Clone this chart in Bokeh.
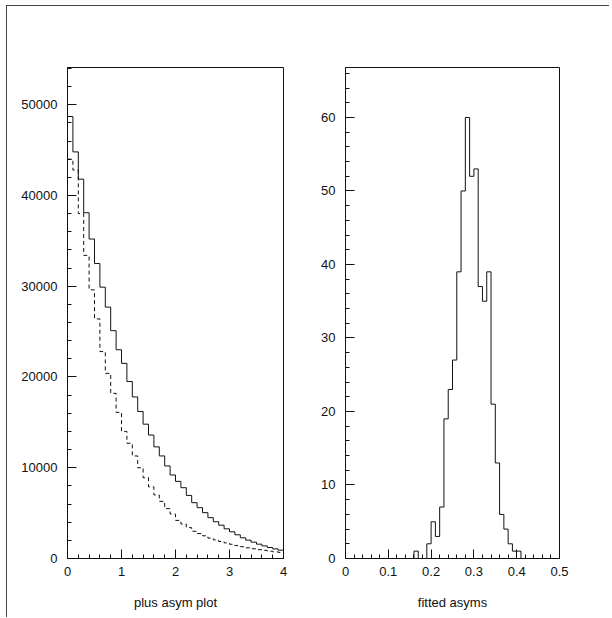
from bokeh.plotting import figure
from bokeh.models import FixedTicker, Range1d
from bokeh.layouts import row
from bokeh.embed import file_html
from bokeh.resources import INLINE

# ---------------- data ----------------
# left panel: 40 bins of width 0.1 from 0 to 4
plus_edges = [0.0, 0.1, 0.2, 0.3, 0.4, 0.5, 0.6, 0.7, 0.8, 0.9,
              1.0, 1.1, 1.2, 1.3, 1.4, 1.5, 1.6, 1.7, 1.8, 1.9,
              2.0, 2.1, 2.2, 2.3, 2.4, 2.5, 2.6, 2.7, 2.8, 2.9,
              3.0, 3.1, 3.2, 3.3, 3.4, 3.5, 3.6, 3.7, 3.8, 3.9, 4.0]
plus_solid = [48700, 44800, 41800, 38100, 35200, 32500, 29900, 27700, 25100, 23000,
              21500, 19500, 17800, 16200, 14800, 13600, 12300, 11300, 10200, 9200,
              8500, 7800, 6950, 6150, 5600, 5050, 4500, 4050, 3670, 3270,
              2940, 2610, 2280, 2020, 1800, 1580, 1390, 1210, 1060, 920]
plus_dashed = [44000, 42800, 38000, 33400, 29600, 26400, 22800, 20400, 18200, 16100,
               14000, 12700, 11300, 10000, 8900, 7900, 7000, 6300, 5500, 4900,
               4200, 3800, 3400, 3000, 2750, 2500, 2250, 2050, 1880, 1720,
               1570, 1420, 1300, 1180, 1070, 970, 890, 800, 730, 680]

# right panel: 50 bins of width 0.01 from 0 to 0.5
fit_edges = [0.00, 0.01, 0.02, 0.03, 0.04, 0.05, 0.06, 0.07, 0.08, 0.09,
             0.10, 0.11, 0.12, 0.13, 0.14, 0.15, 0.16, 0.17, 0.18, 0.19,
             0.20, 0.21, 0.22, 0.23, 0.24, 0.25, 0.26, 0.27, 0.28, 0.29,
             0.30, 0.31, 0.32, 0.33, 0.34, 0.35, 0.36, 0.37, 0.38, 0.39,
             0.40, 0.41, 0.42, 0.43, 0.44, 0.45, 0.46, 0.47, 0.48, 0.49, 0.50]
fit_counts = [0, 0, 0, 0, 0, 0, 0, 0, 0, 0,
              0, 0, 0, 0, 0, 0, 1, 0, 0, 2,
              5, 3, 7, 19, 23, 27, 39, 50, 60, 52,
              53, 37, 35, 39, 21, 13, 6, 4, 2, 1,
              1, 0, 0, 0, 0, 0, 0, 0, 0, 0]

plus_xticks = [0, 1, 2, 3, 4]
plus_yticks = [0, 10000, 20000, 30000, 40000, 50000]
fit_xticks = [0, 0.1, 0.2, 0.3, 0.4, 0.5]
fit_yticks = [0, 10, 20, 30, 40, 50, 60]

FONT = "Liberation Sans"
INK = "#111111"


def style(p, xticks, yticks, xminor, yminor, xlabel):
    p.xgrid.visible = False
    p.ygrid.visible = False
    p.outline_line_color = INK
    p.outline_line_width = 1
    p.outline_line_alpha = 1
    p.background_fill_color = "white"
    p.border_fill_color = "white"
    p.xaxis.ticker = FixedTicker(ticks=xticks, minor_ticks=xminor)
    p.yaxis.ticker = FixedTicker(ticks=yticks, minor_ticks=yminor)
    for ax in (p.xaxis[0], p.yaxis[0]):
        ax.axis_line_color = INK
        ax.major_tick_line_color = INK
        ax.minor_tick_line_color = INK
        ax.major_tick_out = 0
        ax.major_tick_in = 9
        ax.minor_tick_out = 0
        ax.minor_tick_in = 4
        ax.major_label_text_font = FONT
        ax.major_label_text_font_size = "13px"
        ax.major_label_text_color = INK
    p.yaxis.major_label_standoff = 10
    p.xaxis.major_label_standoff = 8
    p.xaxis.axis_label = xlabel
    p.xaxis.axis_label_text_font = FONT
    p.xaxis.axis_label_text_font_size = "13px"
    p.xaxis.axis_label_text_font_style = "normal"
    p.xaxis.axis_label_text_color = INK
    p.xaxis.axis_label_standoff = 16


# ---------------- left panel ----------------
p1 = figure(frame_width=216, frame_height=491,
            x_range=Range1d(0, 4), y_range=Range1d(0, 54100),
            min_border_left=60, min_border_right=6, min_border_top=61, min_border_bottom=59,
            output_backend="svg", toolbar_location=None)
plus_minor_x = [i * 0.2 for i in range(21)]
plus_minor_y = [i * 2000 for i in range(28)]
style(p1, plus_xticks, plus_yticks, plus_minor_x, plus_minor_y, "plus asym plot")
p1.yaxis.formatter.use_scientific = False

p1.step(x=plus_edges, y=plus_solid + [plus_solid[-1]], mode="after",
        line_color=INK, line_width=1)
p1.step(x=plus_edges, y=plus_dashed + [plus_dashed[-1]], mode="after",
        line_color=INK, line_width=1, line_dash="4 3")

# ---------------- right panel ----------------
p2 = figure(frame_width=214, frame_height=491,
            x_range=Range1d(0, 0.5), y_range=Range1d(0, 66.8),
            min_border_left=56, min_border_right=50, min_border_top=61, min_border_bottom=59,
            output_backend="svg", toolbar_location=None)
fit_minor_x = [i * 0.02 for i in range(26)]
fit_minor_y = [i * 2 for i in range(34)]
style(p2, fit_xticks, fit_yticks, fit_minor_x, fit_minor_y, "fitted asyms")

p2.step(x=fit_edges, y=fit_counts + [fit_counts[-1]], mode="after",
        line_color=INK, line_width=1)

layout = row(p1, p2, styles={"border-top": "1px solid #444", "border-left": "1px solid #444",
                             "margin-left": "6px", "margin-top": "5px"})

open("out.html", "w").write(file_html(layout, INLINE))
